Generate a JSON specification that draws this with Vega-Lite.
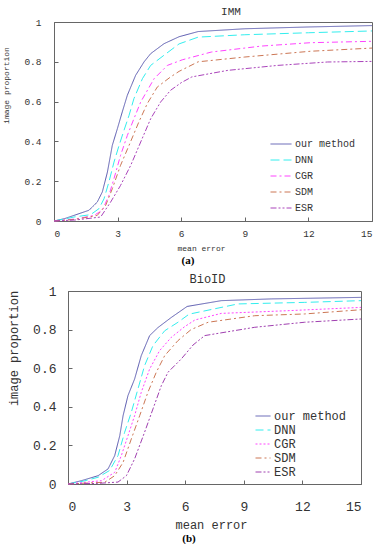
{
"$schema": "https://vega.github.io/schema/vega-lite/v6.json",
"padding": {"left": 1, "right": 0, "top": 5, "bottom": 0},
"background": "white",
"config": {"view": {"stroke": "#666", "strokeWidth": 1}, "axis": {"grid": false, "domainColor": "#666", "tickColor": "#666", "labelColor": "#333", "titleColor": "#333", "titleFontWeight": "normal"}, "title": {"color": "#333", "fontWeight": "normal"}},
"datasets": {
"imm": [
{"m":"our method","x":0,"y":0},{"m":"our method","x":0.5,"y":0.012},{"m":"our method","x":0.94,"y":0.028},{"m":"our method","x":1.65,"y":0.054},{"m":"our method","x":2.04,"y":0.095},{"m":"our method","x":2.28,"y":0.146},{"m":"our method","x":2.52,"y":0.246},{"m":"our method","x":2.75,"y":0.38},{"m":"our method","x":2.99,"y":0.464},{"m":"our method","x":3.22,"y":0.548},{"m":"our method","x":3.46,"y":0.632},{"m":"our method","x":3.85,"y":0.732},{"m":"our method","x":4.25,"y":0.8},{"m":"our method","x":4.56,"y":0.841},{"m":"our method","x":5.19,"y":0.891},{"m":"our method","x":5.9,"y":0.926},{"m":"our method","x":6.8,"y":0.952},{"m":"our method","x":9,"y":0.966},{"m":"our method","x":12,"y":0.975},{"m":"our method","x":15,"y":0.982},
{"m":"DNN","x":0,"y":0},{"m":"DNN","x":0.5,"y":0.01},{"m":"DNN","x":0.94,"y":0.02},{"m":"DNN","x":1.73,"y":0.032},{"m":"DNN","x":2.12,"y":0.062},{"m":"DNN","x":2.36,"y":0.112},{"m":"DNN","x":2.59,"y":0.196},{"m":"DNN","x":2.83,"y":0.296},{"m":"DNN","x":3.07,"y":0.38},{"m":"DNN","x":3.3,"y":0.455},{"m":"DNN","x":3.54,"y":0.531},{"m":"DNN","x":3.77,"y":0.615},{"m":"DNN","x":4.17,"y":0.715},{"m":"DNN","x":4.56,"y":0.782},{"m":"DNN","x":5.19,"y":0.833},{"m":"DNN","x":5.9,"y":0.89},{"m":"DNN","x":6.8,"y":0.924},{"m":"DNN","x":9,"y":0.936},{"m":"DNN","x":12,"y":0.946},{"m":"DNN","x":15,"y":0.955},
{"m":"CGR","x":0,"y":0},{"m":"CGR","x":1,"y":0.01},{"m":"CGR","x":1.89,"y":0.028},{"m":"CGR","x":2.28,"y":0.054},{"m":"CGR","x":2.59,"y":0.129},{"m":"CGR","x":2.83,"y":0.213},{"m":"CGR","x":3.14,"y":0.33},{"m":"CGR","x":3.46,"y":0.43},{"m":"CGR","x":3.77,"y":0.514},{"m":"CGR","x":4.09,"y":0.598},{"m":"CGR","x":4.72,"y":0.715},{"m":"CGR","x":5.35,"y":0.782},{"m":"CGR","x":6.05,"y":0.81},{"m":"CGR","x":7.42,"y":0.849},{"m":"CGR","x":9.78,"y":0.879},{"m":"CGR","x":12.1,"y":0.896},{"m":"CGR","x":15,"y":0.903},
{"m":"SDM","x":0,"y":0},{"m":"SDM","x":1,"y":0.008},{"m":"SDM","x":2.04,"y":0.028},{"m":"SDM","x":2.44,"y":0.079},{"m":"SDM","x":2.75,"y":0.162},{"m":"SDM","x":3.14,"y":0.28},{"m":"SDM","x":3.54,"y":0.38},{"m":"SDM","x":4.0,"y":0.497},{"m":"SDM","x":4.4,"y":0.59},{"m":"SDM","x":4.87,"y":0.673},{"m":"SDM","x":5.5,"y":0.724},{"m":"SDM","x":5.9,"y":0.752},{"m":"SDM","x":6.8,"y":0.8},{"m":"SDM","x":9,"y":0.824},{"m":"SDM","x":12.1,"y":0.853},{"m":"SDM","x":15,"y":0.869},
{"m":"ESR","x":0,"y":0},{"m":"ESR","x":1,"y":0.005},{"m":"ESR","x":2.2,"y":0.02},{"m":"ESR","x":2.67,"y":0.095},{"m":"ESR","x":3.14,"y":0.179},{"m":"ESR","x":3.62,"y":0.28},{"m":"ESR","x":4.09,"y":0.397},{"m":"ESR","x":4.56,"y":0.514},{"m":"ESR","x":5.03,"y":0.598},{"m":"ESR","x":5.5,"y":0.657},{"m":"ESR","x":6.0,"y":0.695},{"m":"ESR","x":6.5,"y":0.724},{"m":"ESR","x":8.2,"y":0.757},{"m":"ESR","x":10.56,"y":0.782},{"m":"ESR","x":12.9,"y":0.799},{"m":"ESR","x":15,"y":0.802}
],
"bioid": [
{"m":"our method","x":0,"y":0},{"m":"our method","x":0.68,"y":0.017},{"m":"our method","x":1.54,"y":0.043},{"m":"our method","x":2.05,"y":0.078},{"m":"our method","x":2.39,"y":0.147},{"m":"our method","x":2.65,"y":0.25},{"m":"our method","x":2.82,"y":0.354},{"m":"our method","x":3.07,"y":0.458},{"m":"our method","x":3.41,"y":0.544},{"m":"our method","x":3.75,"y":0.665},{"m":"our method","x":4.18,"y":0.769},{"m":"our method","x":4.61,"y":0.811},{"m":"our method","x":5.29,"y":0.863},{"m":"our method","x":6.1,"y":0.92},{"m":"our method","x":7.85,"y":0.95},{"m":"our method","x":10.4,"y":0.959},{"m":"our method","x":15,"y":0.967},
{"m":"DNN","x":0,"y":0},{"m":"DNN","x":0.8,"y":0.015},{"m":"DNN","x":1.54,"y":0.035},{"m":"DNN","x":2.13,"y":0.07},{"m":"DNN","x":2.56,"y":0.147},{"m":"DNN","x":2.9,"y":0.268},{"m":"DNN","x":3.24,"y":0.371},{"m":"DNN","x":3.58,"y":0.492},{"m":"DNN","x":3.92,"y":0.613},{"m":"DNN","x":4.35,"y":0.717},{"m":"DNN","x":4.95,"y":0.794},{"m":"DNN","x":5.63,"y":0.838},{"m":"DNN","x":6.2,"y":0.88},{"m":"DNN","x":8.7,"y":0.933},{"m":"DNN","x":12.1,"y":0.941},{"m":"DNN","x":15,"y":0.95},
{"m":"CGR","x":0,"y":0},{"m":"CGR","x":1,"y":0.01},{"m":"CGR","x":1.71,"y":0.017},{"m":"CGR","x":2.39,"y":0.06},{"m":"CGR","x":2.73,"y":0.147},{"m":"CGR","x":3.07,"y":0.25},{"m":"CGR","x":3.41,"y":0.354},{"m":"CGR","x":3.75,"y":0.475},{"m":"CGR","x":4.18,"y":0.596},{"m":"CGR","x":4.69,"y":0.691},{"m":"CGR","x":5.29,"y":0.76},{"m":"CGR","x":5.97,"y":0.815},{"m":"CGR","x":6.5,"y":0.85},{"m":"CGR","x":7.85,"y":0.884},{"m":"CGR","x":11.26,"y":0.898},{"m":"CGR","x":15,"y":0.915},
{"m":"SDM","x":0,"y":0},{"m":"SDM","x":1,"y":0.005},{"m":"SDM","x":1.88,"y":0.009},{"m":"SDM","x":2.39,"y":0.043},{"m":"SDM","x":2.82,"y":0.112},{"m":"SDM","x":3.24,"y":0.233},{"m":"SDM","x":3.67,"y":0.354},{"m":"SDM","x":4.09,"y":0.475},{"m":"SDM","x":4.52,"y":0.579},{"m":"SDM","x":4.95,"y":0.665},{"m":"SDM","x":5.63,"y":0.743},{"m":"SDM","x":6.3,"y":0.8},{"m":"SDM","x":7.17,"y":0.838},{"m":"SDM","x":9.56,"y":0.872},{"m":"SDM","x":12.1,"y":0.881},{"m":"SDM","x":15,"y":0.903},
{"m":"ESR","x":0,"y":0},{"m":"ESR","x":1.5,"y":0.003},{"m":"ESR","x":2.56,"y":0.01},{"m":"ESR","x":2.99,"y":0.043},{"m":"ESR","x":3.41,"y":0.13},{"m":"ESR","x":3.92,"y":0.268},{"m":"ESR","x":4.35,"y":0.389},{"m":"ESR","x":4.78,"y":0.51},{"m":"ESR","x":5.12,"y":0.579},{"m":"ESR","x":5.8,"y":0.648},{"m":"ESR","x":6.4,"y":0.72},{"m":"ESR","x":7,"y":0.769},{"m":"ESR","x":9.56,"y":0.812},{"m":"ESR","x":12.1,"y":0.838},{"m":"ESR","x":15,"y":0.855}
]
},
"resolve": {"scale": {"color": "independent", "strokeDash": "independent"}, "legend": {"color": "independent", "strokeDash": "independent"}},
"spacing": 6,
"vconcat": [
{
"title": {"text": "(a)", "orient": "bottom", "anchor": "middle", "frame": "bounds", "dx": 0, "font": "Liberation Serif", "fontSize": 11, "fontWeight": "bold", "color": "#000", "offset": 2},
"resolve": {"scale": {"color": "independent", "strokeDash": "independent"}, "legend": {"color": "independent", "strokeDash": "independent"}},
"vconcat": [{
"width": 318, "height": 199,
"title": {"text": "IMM", "font": "Liberation Mono", "fontSize": 11, "offset": 0, "dx": 18},
"data": {"name": "imm"},
"mark": {"type": "line", "strokeWidth": 1},
"encoding": {
"x": {"field": "x", "type": "quantitative", "scale": {"domain": [0, 15], "nice": false}, "axis": {"values": [0, 3, 6, 9, 12, 15], "title": "mean error", "labelFont": "Liberation Mono", "labelFontSize": 9.5, "tickSize": -4, "labelPadding": 11, "titleFont": "Liberation Mono", "titleFontSize": 8, "titleX": 147, "titleY": 27, "titleBaseline": "middle"}},
"y": {"field": "y", "type": "quantitative", "scale": {"domain": [0, 1], "nice": false}, "axis": {"values": [0, 0.2, 0.4, 0.6, 0.8, 1], "format": "~g", "title": "image proportion", "labelFont": "Liberation Mono", "labelFontSize": 9.5, "tickSize": -4, "labelPadding": 17, "titleFont": "Liberation Mono", "titleFontSize": 8, "titleX": -48, "titleY": 63, "titleBaseline": "middle"}},
"color": {"field": "m", "type": "nominal", "scale": {"domain": ["our method", "DNN", "CGR", "SDM", "ESR"], "range": ["#5b5bb0", "#33eeee", "#ff44ff", "#cc7755", "#aa44bb"]}, "legend": {"title": null, "orient": "none", "legendX": 216, "legendY": 111, "padding": 0, "symbolType": "stroke", "symbolSize": 441, "symbolStrokeWidth": 1, "rowPadding": 0, "labelOffset": 3, "labelFont": "Liberation Mono", "labelFontSize": 10, "labelColor": "#333"}},
"strokeDash": {"field": "m", "type": "nominal", "scale": {"domain": ["our method", "DNN", "CGR", "SDM", "ESR"], "range": [[1, 0], [9, 4], [6, 3, 2, 3], [6, 3, 2, 3], [6, 2, 2, 2, 2, 2]]}, "legend": {"title": null, "orient": "none", "legendX": 216, "legendY": 111, "padding": 0, "symbolType": "stroke", "symbolSize": 441, "symbolStrokeWidth": 1, "rowPadding": 0, "labelOffset": 3, "labelFont": "Liberation Mono", "labelFontSize": 10, "labelColor": "#333"}}
}
}]
},
{
"title": {"text": "(b)", "orient": "bottom", "anchor": "middle", "frame": "bounds", "dx": 4, "font": "Liberation Serif", "fontSize": 11, "fontWeight": "bold", "color": "#000", "offset": 2},
"resolve": {"scale": {"color": "independent", "strokeDash": "independent"}, "legend": {"color": "independent", "strokeDash": "independent"}},
"bounds": "flush",
"spacing": 0,
"hconcat": [
{"width": 14, "height": 193, "view": {"stroke": null}, "data": {"values": []}, "mark": "point"},
{
"width": 293, "height": 193,
"title": {"text": "BioID", "font": "Liberation Mono", "fontSize": 12, "offset": -1, "dx": -7},
"data": {"name": "bioid"},
"mark": {"type": "line", "strokeWidth": 1},
"encoding": {
"x": {"field": "x", "type": "quantitative", "scale": {"domain": [0, 15], "nice": false}, "axis": {"values": [0, 3, 6, 9, 12, 15], "title": "mean error", "labelFont": "Liberation Mono", "labelFontSize": 13, "tickSize": -4, "labelPadding": 20, "titleFont": "Liberation Mono", "titleFontSize": 12, "titleX": 143, "titleY": 40, "titleBaseline": "middle"}},
"y": {"field": "y", "type": "quantitative", "scale": {"domain": [0, 1], "nice": false}, "axis": {"values": [0, 0.2, 0.4, 0.6, 0.8, 1], "format": "~g", "title": "image proportion", "labelFont": "Liberation Mono", "labelFontSize": 13, "tickSize": -4, "labelPadding": 16, "titleFont": "Liberation Mono", "titleFontSize": 12, "titleX": -55, "titleY": 57, "titleBaseline": "middle"}},
"color": {"field": "m", "type": "nominal", "scale": {"domain": ["our method", "DNN", "CGR", "SDM", "ESR"], "range": ["#5b5bb0", "#33eeee", "#ff44ff", "#cc7755", "#a040b0"]}, "legend": {"title": null, "orient": "none", "legendX": 187, "legendY": 117, "padding": 0, "symbolType": "stroke", "symbolSize": 225, "symbolStrokeWidth": 1, "rowPadding": 0, "labelOffset": 3, "labelFont": "Liberation Mono", "labelFontSize": 12, "labelColor": "#333"}},
"strokeDash": {"field": "m", "type": "nominal", "scale": {"domain": ["our method", "DNN", "CGR", "SDM", "ESR"], "range": [[1, 0], [8, 4], [2, 2], [6, 3, 2, 3], [6, 2, 2, 2, 2, 2]]}, "legend": {"title": null, "orient": "none", "legendX": 187, "legendY": 117, "padding": 0, "symbolType": "stroke", "symbolSize": 225, "symbolStrokeWidth": 1, "rowPadding": 0, "labelOffset": 3, "labelFont": "Liberation Mono", "labelFontSize": 12, "labelColor": "#333"}}
}
}]
}
]
}
